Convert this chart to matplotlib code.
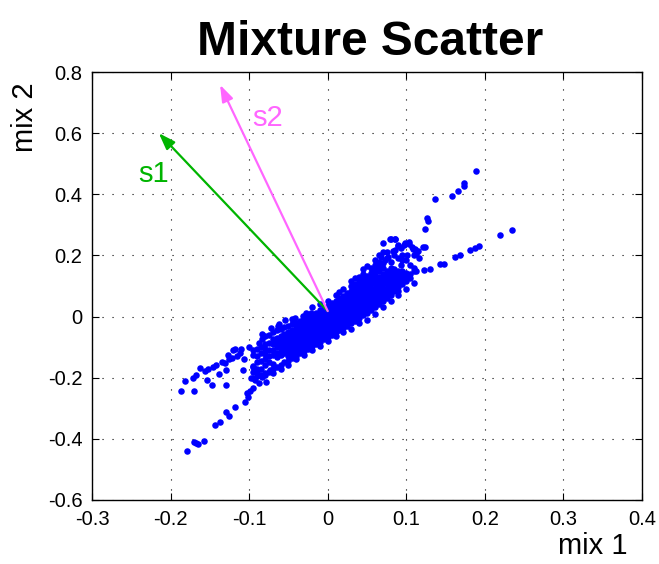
import numpy as np
import matplotlib
matplotlib.use("Agg")
import matplotlib.pyplot as plt

plt.rcParams['font.family'] = ['Liberation Sans', 'DejaVu Sans']

# dense core of the mixture cloud: (mix 1, [mix 2 values])
core_cols = [
    (-0.095, [-0.200, -0.180, -0.165, -0.125, -0.110]),
    (-0.090, [-0.195, -0.170, -0.150, -0.130, -0.105]),
    (-0.085, [-0.190, -0.172, -0.145, -0.120, -0.098]),
    (-0.080, [-0.185, -0.160, -0.140, -0.122, -0.105, -0.090, -0.065]),
    (-0.075, [-0.180, -0.148, -0.130, -0.110, -0.085, -0.060]),
    (-0.070, [-0.172, -0.155, -0.125, -0.108, -0.090, -0.075, -0.050]),
    (-0.065, [-0.165, -0.133, -0.118, -0.100, -0.085, -0.070, -0.045]),
    (-0.060, [-0.158, -0.127, -0.112, -0.096, -0.080, -0.062, -0.040]),
    (-0.055, [-0.150, -0.120, -0.105, -0.090, -0.075, -0.058, -0.035]),
    (-0.050, [-0.145, -0.128, -0.113, -0.098, -0.083, -0.067, -0.050, -0.030]),
    (-0.045, [-0.135, -0.120, -0.105, -0.090, -0.075, -0.060, -0.045, -0.025]),
    (-0.040, [-0.128, -0.112, -0.097, -0.083, -0.068, -0.052, -0.036, -0.020]),
    (-0.035, [-0.120, -0.105, -0.090, -0.075, -0.060, -0.045, -0.030, -0.015]),
    (-0.030, [-0.112, -0.097, -0.082, -0.067, -0.052, -0.037, -0.022, -0.008]),
    (-0.025, [-0.105, -0.090, -0.075, -0.060, -0.045, -0.030, -0.015, 0.000]),
    (-0.020, [-0.097, -0.082, -0.067, -0.052, -0.037, -0.022, -0.007, 0.005]),
    (-0.015, [-0.090, -0.075, -0.060, -0.045, -0.030, -0.015, 0.000, 0.012]),
    (-0.010, [-0.082, -0.067, -0.052, -0.037, -0.022, -0.007, 0.008, 0.020]),
    (-0.005, [-0.075, -0.060, -0.045, -0.030, -0.015, 0.000, 0.015, 0.027]),
    (0.000, [-0.068, -0.052, -0.037, -0.022, -0.007, 0.008, 0.023, 0.035]),
    (0.005, [-0.060, -0.045, -0.030, -0.015, 0.000, 0.015, 0.030, 0.044]),
    (0.010, [-0.052, -0.037, -0.022, -0.007, 0.008, 0.023, 0.038, 0.052]),
    (0.015, [-0.045, -0.030, -0.015, 0.000, 0.015, 0.030, 0.045, 0.060]),
    (0.020, [-0.037, -0.022, -0.007, 0.008, 0.023, 0.038, 0.053, 0.068]),
    (0.025, [-0.030, -0.015, 0.000, 0.015, 0.030, 0.045, 0.060, 0.077]),
    (0.030, [-0.022, -0.007, 0.008, 0.023, 0.038, 0.053, 0.068, 0.084, 0.100]),
    (0.035, [-0.013, 0.002, 0.017, 0.032, 0.047, 0.062, 0.077, 0.092, 0.108]),
    (0.040, [-0.005, 0.010, 0.025, 0.040, 0.055, 0.070, 0.085, 0.100, 0.115]),
    (0.045, [0.004, 0.019, 0.034, 0.049, 0.064, 0.079, 0.094, 0.110, 0.125]),
    (0.050, [0.012, 0.027, 0.042, 0.057, 0.072, 0.087, 0.102, 0.118, 0.133]),
    (0.055, [0.020, 0.035, 0.050, 0.065, 0.080, 0.095, 0.110, 0.125, 0.142]),
    (0.060, [0.030, 0.045, 0.060, 0.075, 0.090, 0.105, 0.120, 0.135, 0.152]),
    (0.065, [0.040, 0.055, 0.070, 0.085, 0.100, 0.115, 0.130, 0.148, 0.163]),
    (0.070, [0.050, 0.065, 0.080, 0.095, 0.110, 0.125, 0.140, 0.158]),
    (0.075, [0.060, 0.075, 0.090, 0.105, 0.120, 0.135, 0.150]),
    (0.080, [0.072, 0.087, 0.100, 0.115, 0.130, 0.145, 0.160]),
    (0.085, [0.085, 0.100, 0.112, 0.127, 0.140, 0.155]),
    (0.090, [0.097, 0.110, 0.125, 0.138, 0.150]),
    (0.095, [0.108, 0.122, 0.135, 0.148]),
    (0.100, [0.118, 0.130, 0.142]),
    (0.105, [0.125, 0.138]),
]

# loose points along the upper and lower edge of the core
edge_x = [0.030, 0.035, 0.040, 0.045, 0.055, 0.060, 0.065, 0.070, 0.075, 0.080,
          0.085, 0.090, 0.095, 0.100, 0.105, 0.110, 0.020, 0.010, 0.000, -0.010,
          -0.020, 0.015, 0.060, 0.070, 0.080, 0.090, 0.100, 0.110, 0.050, 0.040,
          0.030, 0.020, 0.010, 0.000, -0.010, -0.020, -0.030, -0.040, -0.050, -0.060,
          -0.070, -0.088, -0.083, -0.072, -0.062, -0.041, -0.027, 0.068, 0.083, 0.093]
edge_y = [0.115, 0.125, 0.130, 0.140, 0.160, 0.170, 0.180, 0.175, 0.190, 0.180,
          0.200, 0.190, 0.200, 0.185, 0.170, 0.160, 0.090, 0.070, 0.050, 0.040,
          0.030, 0.080, 0.010, 0.030, 0.050, 0.070, 0.090, 0.110, -0.010, -0.020,
          -0.040, -0.050, -0.065, -0.080, -0.095, -0.110, -0.125, -0.140, -0.160, -0.170,
          -0.185, -0.085, -0.075, -0.038, -0.025, -0.005, 0.012, 0.195, 0.215, 0.170]

# scattered points around the core and the two tails
outer_x = [0.189, 0.174, 0.173, 0.166, 0.158, 0.137, 0.127, 0.128, 0.124, 0.124,
           0.234, 0.219, 0.193, 0.188, 0.181, 0.168, 0.162, 0.148, 0.143, 0.130,
           0.122, 0.113, 0.110, 0.095, 0.071, 0.081, 0.086, 0.103, 0.098, 0.090,
           0.093, 0.107, 0.111, 0.115, 0.110, 0.116, 0.094, 0.086, 0.075, 0.077,
           0.073, 0.079, 0.086, 0.090, 0.097, 0.103, 0.108, 0.113, 0.112, 0.121,
           0.101, 0.056, 0.054, 0.051, 0.044, 0.090, 0.078, 0.045, 0.050, 0.060,
           0.065, 0.070,
           -0.054, -0.045, -0.031, -0.021, -0.063, -0.100, -0.110, -0.120,
           -0.179, -0.170, -0.167, -0.165, -0.157, -0.187, -0.170, -0.182, -0.171, -0.167,
           -0.163, -0.156, -0.152, -0.146, -0.142, -0.153, -0.147, -0.138, -0.129, -0.130,
           -0.127, -0.131, -0.118, -0.122, -0.108, -0.143, -0.137, -0.129, -0.126, -0.118,
           -0.105, -0.102, -0.103, -0.099, -0.095, -0.097, -0.093, -0.088, -0.078, -0.084,
           -0.080, -0.073, -0.095, -0.090, -0.084, -0.112, -0.106, -0.135, -0.125, -0.115]
outer_y = [0.476, 0.436, 0.427, 0.412, 0.396, 0.384, 0.322, 0.313, 0.286, 0.229,
           0.282, 0.267, 0.230, 0.224, 0.218, 0.201, 0.195, 0.173, 0.172, 0.156,
           0.152, 0.150, 0.148, 0.144, 0.242, 0.253, 0.253, 0.245, 0.240, 0.233,
           0.223, 0.227, 0.220, 0.216, 0.201, 0.193, 0.185, 0.218, 0.212, 0.196,
           0.185, 0.254, 0.254, 0.232, 0.234, 0.238, 0.220, 0.215, 0.205, 0.226,
           0.200, 0.043, 0.040, 0.035, 0.032, 0.084, 0.077, 0.155, 0.165, 0.185,
           0.200, 0.210,
           -0.011, -0.007, 0.003, 0.013, -0.030, -0.100, -0.105, -0.110,
           -0.441, -0.409, -0.412, -0.418, -0.407, -0.242, -0.244, -0.210, -0.202, -0.191,
           -0.169, -0.177, -0.173, -0.164, -0.158, -0.207, -0.223, -0.189, -0.224, -0.176,
           -0.125, -0.153, -0.107, -0.136, -0.176, -0.354, -0.346, -0.312, -0.325, -0.295,
           -0.279, -0.264, -0.249, -0.244, -0.235, -0.202, -0.207, -0.218, -0.213, -0.197,
           -0.191, -0.175, -0.162, -0.180, -0.057, -0.120, -0.140, -0.150, -0.140, -0.130]

# source directions drawn as arrows from the origin
s1_tip = (-0.215, 0.600)
s2_tip = (-0.137, 0.758)
arrow_base = (0.0, 0.018)

core_x = [cx for cx, ys in core_cols for _ in ys]
core_y = [y for cx, ys in core_cols for y in ys]
mix1 = np.array(core_x + edge_x + outer_x)
mix2 = np.array(core_y + edge_y + outer_y)

fig = plt.figure(figsize=(6.59, 5.64), dpi=100)
ax = fig.add_axes([0.1396, 0.1135, 0.8346, 0.7588])

ax.plot(mix1, mix2, 'o', color='#0000ff', ms=4.7, mec='none', zorder=3)

green = '#00b400'
pink = '#ff66ff'
for tip, col in [(s1_tip, green), (s2_tip, pink)]:
    ax.annotate('', xy=tip, xytext=arrow_base,
                arrowprops=dict(arrowstyle='-|>,head_length=1.0,head_width=0.35',
                                color=col, lw=1.6, shrinkA=0, shrinkB=0),
                zorder=4)
ax.text(-0.222, 0.466, 's1', color=green, fontsize=21, ha='center', va='center')
ax.text(-0.077, 0.650, 's2', color=pink, fontsize=21, ha='center', va='center')

ax.set_xlim(-0.3, 0.4)
ax.set_ylim(-0.6, 0.8)
ax.set_xticks(np.arange(-0.3, 0.41, 0.1))
ax.set_yticks(np.arange(-0.6, 0.81, 0.2))
ax.set_xticklabels(['-0.3', '-0.2', '-0.1', '0', '0.1', '0.2', '0.3', '0.4'])
ax.set_yticklabels(['-0.6', '-0.4', '-0.2', '0', '0.2', '0.4', '0.6', '0.8'])
ax.tick_params(direction='in', length=5, width=0.8, top=True, right=True,
               labelsize=14.5, pad=7, colors='black')
ax.grid(True, color='black', linestyle=(0, (1, 8)), linewidth=0.8)
for sp in ax.spines.values():
    sp.set_linewidth(1.0)

fig.text(0.562, 0.925, 'Mixture Scatter', fontsize=34.5, fontweight='bold',
         ha='center', va='center')
fig.text(0.9, 0.032, 'mix 1', fontsize=21, ha='center', va='center')
fig.text(0.038, 0.793, 'mix 2', fontsize=21, ha='center', va='center', rotation=90)

fig.savefig('out.png', dpi=100)
